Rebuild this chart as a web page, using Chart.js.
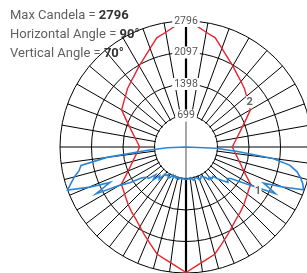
<!DOCTYPE html>
<html>
<head>
<meta charset="utf-8">
<script src="https://cdn.jsdelivr.net/npm/chart.js@4.4.0/dist/chart.umd.min.js"></script>
<style>
  html, body { margin: 0; padding: 0; background: #fff; overflow: hidden; }
  #wrap { position: relative; width: 307px; height: 273px; overflow: hidden; }
  #box { position: absolute; left: 0; top: 0; width: 330px; height: 300px; }
</style>
</head>
<body>
<div id="wrap"><div id="box"><canvas id="polar"></canvas></div></div>
<script>
const maxCandela = 2796;
const horizontalAngle = 90;
const verticalAngle = 70;
const ringValues = [699, 1398, 2097, 2796];

// curve 2 (red): vertical angle 0..180, every 5 deg
const redLeft = [2785, 2648, 2542, 2464, 2298, 2166, 2044, 1945, 1879, 1812, 1746, 1691, 1658,
    1463, 1326, 1222, 1140, 1076, 1028, 1078, 1145, 1231, 1337, 1476, 1649, 1695, 1755, 1834,
    1898, 1974, 2077, 2186, 2329, 2508, 2586, 2696, 2763];
const redRight = [2785, 2648, 2542, 2464, 2298, 2166, 2044, 1945, 1879, 1812, 1746, 1691, 1658,
    1463, 1326, 1222, 1140, 1076, 1028, 1078, 1145, 1231, 1337, 1476, 1649, 1695, 1755, 1834,
    1898, 1974, 2077, 2186, 2329, 2508, 2586, 2696, 2763];

// curve 1 (blue): vertical angle 0..90, every 2.5 deg (nothing above 90)
const blueLeft = [718, 718, 707, 718, 696, 729, 696, 729, 685, 740, 685, 763, 796, 729, 774, 751,
    928, 862, 1039, 906, 1083, 1105, 1194, 1481, 1702, 2254, 1857, 2343, 2796, 2674, 2564, 2431,
    2365, 1768, 884, 420, 0];
const blueRight = [718, 718, 707, 729, 707, 751, 729, 707, 729, 796, 774, 729, 774, 796, 884, 840,
    906, 884, 995, 1105, 1216, 1149, 1216, 1459, 1768, 2232, 1901, 2321, 2774, 2719, 2630, 2520,
    2343, 1945, 1149, 663, 0];

const STEP = 2.5;
const N = 360 / STEP;          // 144 spokes, clockwise from nadir
const labels = [];
const redData = [];
const blueData = [];
for (let i = 0; i < N; i++) {
    const a = i * STEP;
    labels.push(a + '°');
    // left half: vertical angle = a, right half: 360 - a
    const left = a <= 180;
    const v = left ? a : 360 - a;
    const red = left ? redLeft : redRight;
    const blue = left ? blueLeft : blueRight;
    redData.push(v % 5 === 0 ? red[v / 5] : null);
    const bi = v / STEP;
    blueData.push(bi < blue.length ? blue[bi] : 0);
}

// spokes: every 7.5 deg below the horizon, every 10 deg above it
function isSpoke(i) {
    const upper = i >= 36 && i <= 108;
    return upper ? i % 4 === 0 : i % 3 === 0;
}

const FONT = "Roboto, 'Liberation Sans', sans-serif";

const photoPlugin = {
    id: 'photo',
    beforeDatasetsDraw(chart) {
        const s = chart.scales.r;
        const ctx = chart.ctx;
        const rad = s.getDistanceFromCenterForValue(ringValues[0]);
        ctx.save();
        ctx.fillStyle = '#fff';
        ctx.beginPath();
        ctx.arc(s.xCenter, s.yCenter, rad - 0.8, 0, Math.PI * 2);
        ctx.fill();
        ctx.strokeStyle = '#8a8a8a';
        ctx.lineWidth = 1.5;
        ctx.beginPath();
        ctx.moveTo(s.xCenter, s.yCenter - rad);
        ctx.lineTo(s.xCenter, s.yCenter + rad);
        ctx.stroke();
        ctx.restore();
    },
    afterDatasetsDraw(chart) {
        const s = chart.scales.r;
        const ctx = chart.ctx;
        ctx.save();
        // ring values on the vertical axis
        ctx.font = '10.5px ' + FONT;
        ctx.textAlign = 'center';
        ctx.textBaseline = 'middle';
        ringValues.forEach(v => {
            const y = s.yCenter - s.getDistanceFromCenterForValue(v);
            const w = ctx.measureText(String(v)).width;
            ctx.fillStyle = '#fff';
            ctx.fillRect(s.xCenter - w / 2 - 2, y - 6, w + 4, 12);
            ctx.fillStyle = '#555';
            ctx.fillText(String(v), s.xCenter, y);
        });

        // curve numbers
        ctx.font = 'bold 11px ' + FONT;
        const p2 = s.getPointPositionForValue(94, redData[94]);
        const p1 = s.getPointPositionForValue(120, blueData[120]);
        [[p2, '2', 1, -1], [p1, '1', 3, 4]].forEach(([p, t, ox, oy]) => {
            ctx.fillStyle = '#fff';
            ctx.fillRect(p.x + ox - 3.5, p.y + oy - 6, 7, 12);
            ctx.fillStyle = '#666';
            ctx.fillText(t, p.x + ox, p.y + oy);
        });
        ctx.restore();
    },
    afterDraw(chart) {
        const ctx = chart.ctx;
        ctx.save();
        ctx.textBaseline = 'alphabetic';
        ctx.textAlign = 'left';
        const rows = [
            ['Max Candela = ', String(maxCandela)],
            ['Horizontal Angle = ', horizontalAngle + '°'],
            ['Vertical Angle = ', verticalAngle + '°']
        ];
        rows.forEach((r, k) => {
            const y = 18.5 + k * 19;
            ctx.font = '13px ' + FONT;
            ctx.fillStyle = '#606060';
            ctx.fillText(r[0], 10, y);
            const w = ctx.measureText(r[0]).width;
            ctx.font = 'bold 13px ' + FONT;
            ctx.fillStyle = '#333';
            ctx.fillText(r[1], 10 + w, y);
        });
        ctx.restore();
    }
};

new Chart(document.getElementById('polar').getContext('2d'), {
    type: 'radar',
    data: {
        labels: labels,
        datasets: [{
            label: '1',
            data: blueData,
            borderColor: '#2a86d4',
            borderWidth: 1.6,
            fill: false,
            pointRadius: 0,
            tension: 0
        }, {
            label: '2',
            data: redData,
            borderColor: '#ea2430',
            borderWidth: 1.4,
            fill: false,
            pointRadius: 0,
            tension: 0,
            spanGaps: true
        }]
    },
    options: {
        responsive: true,
        maintainAspectRatio: false,
        animation: false,
        layout: { padding: { left: 60, right: 17, top: 21, bottom: 25.5 } },
        plugins: { legend: { display: false }, tooltip: { enabled: false } },
        scales: {
            r: {
                min: 0,
                max: maxCandela,
                startAngle: 180,
                ticks: { stepSize: 699, display: false },
                pointLabels: { display: false },
                grid: { circular: true, color: '#000', lineWidth: 1 },
                angleLines: {
                    color: ctx => isSpoke(ctx.index) ? '#000' : 'rgba(0,0,0,0)',
                    lineWidth: ctx => (ctx.index === 0 || ctx.index === 72) ? 2.2 : (isSpoke(ctx.index) ? 1 : 0)
                }
            }
        }
    },
    plugins: [photoPlugin]
});
</script>
</body>
</html>
